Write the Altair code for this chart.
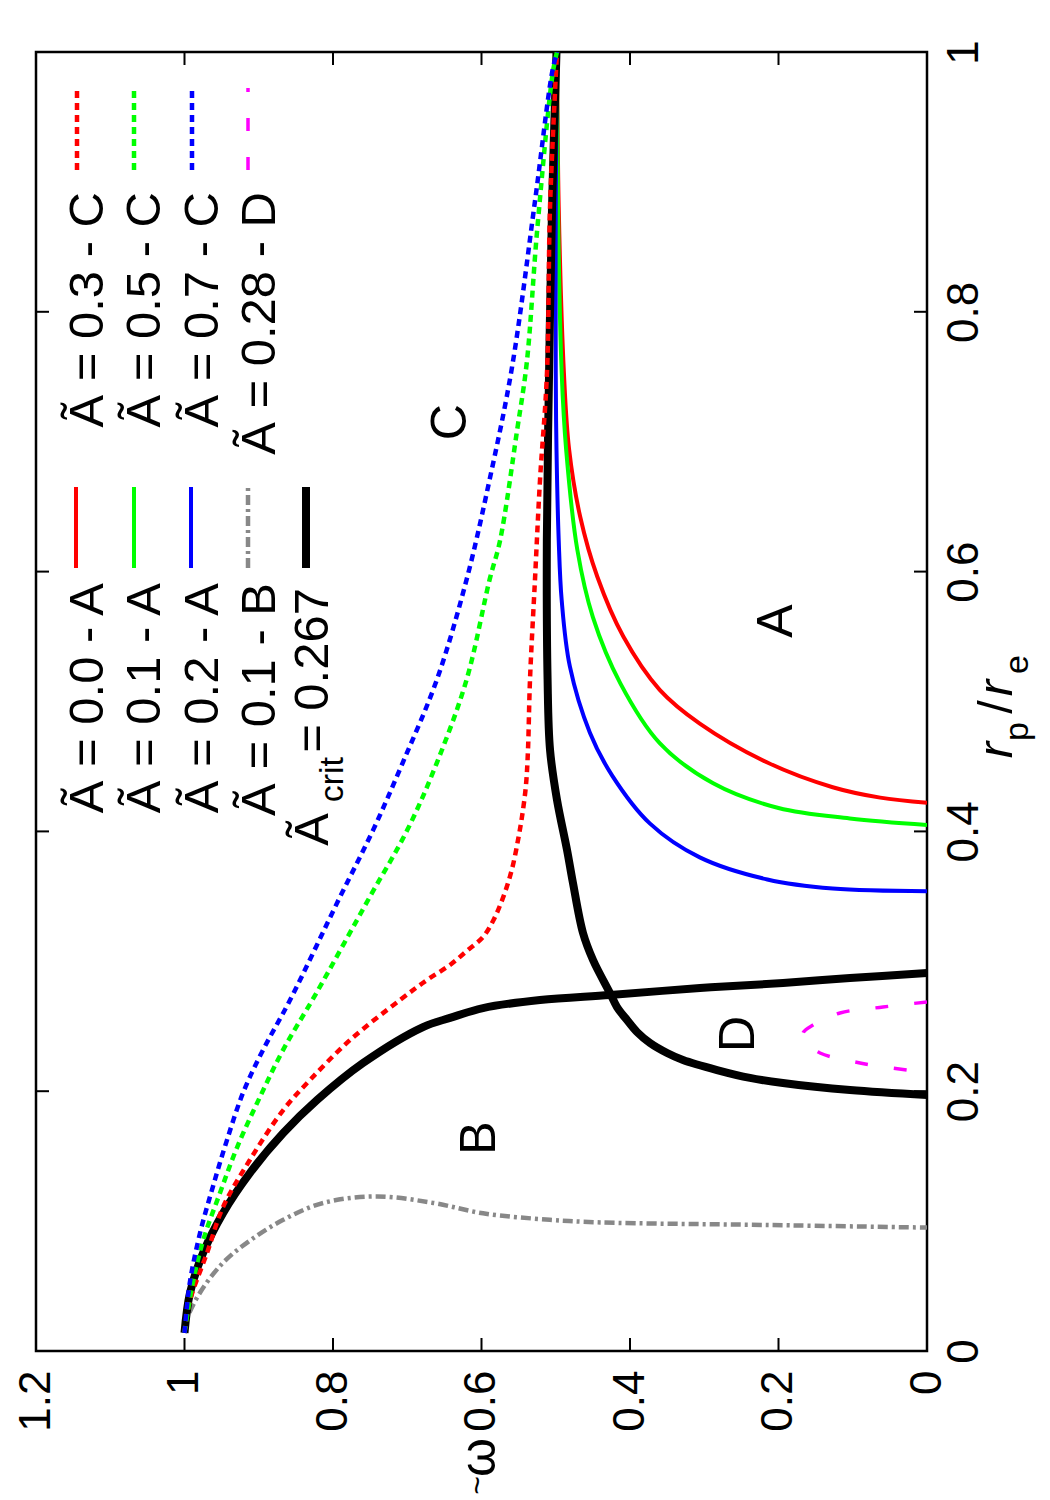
import altair as alt
import pandas as pd

FONT = "Liberation Sans"
W, H = 891, 1299
PAD = {"left": 36, "top": 52, "right": 1050 - 36 - W, "bottom": 1500 - 52 - H}

# ---------------- curve data: r = r_p/r_e, w = omega-tilde ----------------
crit_a_r = [1.0, 0.881, 0.753, 0.624, 0.517, 0.4627, 0.4242, 0.3857, 0.3603, 0.3218, 0.301, 0.2756,
            0.2648, 0.2548, 0.2456, 0.2371, 0.2294, 0.224, 0.2163, 0.2102, 0.2063, 0.2009, 0.1971]
crit_a_w = [0.499, 0.505, 0.509, 0.512, 0.511, 0.5077, 0.4983, 0.4848, 0.4768, 0.4633, 0.4498, 0.427,
            0.4175, 0.404, 0.3906, 0.373, 0.350, 0.3286, 0.2828, 0.2384, 0.194, 0.1037, 0.0]

crit_b_r = [0.0139, 0.0447, 0.0754, 0.1063, 0.137, 0.1678, 0.1932, 0.2217, 0.2494, 0.2564, 0.264,
            0.2702, 0.2741, 0.2794, 0.2833, 0.2871, 0.291]
crit_b_w = [1.0, 0.9926, 0.975, 0.948, 0.912, 0.867, 0.8215, 0.7596, 0.6788, 0.6424, 0.598,
            0.5212, 0.4269, 0.3057, 0.1939, 0.1037, 0.0]

red_c_r = [0.0139, 0.039, 0.0754, 0.1109, 0.147, 0.1855, 0.2086, 0.2394, 0.2702, 0.2856, 0.2972,
           0.3087, 0.3187, 0.331, 0.3449, 0.3603, 0.3741, 0.3934, 0.4111, 0.4357, 0.4627, 0.5166,
           0.5935, 0.6705, 0.7529, 0.8807, 1.0]
red_c_w = [1.0, 0.9926, 0.9697, 0.948, 0.912, 0.867, 0.831, 0.777, 0.7098, 0.6734, 0.6424,
           0.6182, 0.598, 0.5845, 0.5737, 0.5643, 0.5576, 0.5508, 0.5455, 0.5401, 0.5374, 0.5347,
           0.528, 0.5212, 0.5118, 0.5077, 0.4983]

green_c_r = [0.0139, 0.049, 0.085, 0.122, 0.157, 0.196, 0.232, 0.274, 0.350, 0.401, 0.453, 0.517,
             0.594, 0.624, 0.709, 0.761, 0.863, 0.984, 1.0]
green_c_w = [1.0, 0.990, 0.975, 0.952, 0.929, 0.898, 0.867, 0.824, 0.750, 0.700, 0.660, 0.620,
             0.589, 0.575, 0.552, 0.539, 0.525, 0.504, 0.4983]

blue_c_r = [0.0139, 0.052, 0.091, 0.126, 0.162, 0.199, 0.232, 0.270, 0.349, 0.401, 0.453, 0.517,
            0.594, 0.671, 0.757, 0.885, 0.984, 1.0]
blue_c_w = [1.0, 0.993, 0.979, 0.962, 0.943, 0.921, 0.894, 0.858, 0.791, 0.746, 0.706, 0.660,
            0.620, 0.589, 0.559, 0.528, 0.505, 0.4983]

red_a_r = [1.0, 0.881, 0.753, 0.694, 0.642, 0.596, 0.550, 0.509, 0.483, 0.453, 0.434, 0.426, 0.422]
red_a_w = [0.4983, 0.496, 0.489, 0.482, 0.467, 0.444, 0.409, 0.360, 0.306, 0.215, 0.127, 0.063, 0.0]

green_a_r = [1.0, 0.881, 0.753, 0.694, 0.617, 0.565, 0.514, 0.468, 0.437, 0.418, 0.410, 0.405]
green_a_w = [0.4983, 0.497, 0.492, 0.486, 0.471, 0.450, 0.413, 0.360, 0.288, 0.200, 0.104, 0.0]

blue_a_r = [1.0, 0.881, 0.753, 0.694, 0.624, 0.578, 0.527, 0.476, 0.443, 0.406, 0.380, 0.363, 0.356, 0.354]
blue_a_w = [0.4983, 0.500, 0.500, 0.499, 0.496, 0.492, 0.481, 0.454, 0.424, 0.373, 0.306, 0.215, 0.127, 0.0]

gray_b_r = [0.0139, 0.024, 0.045, 0.068, 0.085, 0.101, 0.114, 0.119, 0.114, 0.106, 0.101, 0.099, 0.097, 0.095]
gray_b_w = [1.0, 0.997, 0.979, 0.948, 0.912, 0.867, 0.813, 0.741, 0.665, 0.598, 0.508, 0.440, 0.215, 0.0]

magenta_d_r = [0.2687, 0.2648, 0.2602, 0.251, 0.2448, 0.2379, 0.2294, 0.2217, 0.2163, 0.2148]
magenta_d_w = [0.0, 0.0593, 0.1172, 0.1535, 0.167, 0.1643, 0.1441, 0.0902, 0.0269, 0.0]

# axis ticks
w_ticks = [0, 0.2, 0.4, 0.6, 0.8, 1, 1.2]
r_ticks = [0, 0.2, 0.4, 0.6, 0.8, 1]

# region labels (letter, omega, r)
region_letters = ["A", "B", "C", "D"]
region_w = [0.202, 0.602, 0.641, 0.253]
region_r = [0.562, 0.164, 0.715, 0.244]

xs = alt.Scale(domain=[0, 1.2], reverse=True, nice=False, zero=False)
ys = alt.Scale(domain=[0, 1], nice=False, zero=False)

x_axis = alt.Axis(orient="bottom", values=w_ticks, format="~g", labelAngle=270,
                  labelAlign="right", labelBaseline="middle", labelPadding=19,
                  ticks=False, tickSize=0, domain=False, grid=False, labelFlush=False,
                  labelOverlap=False, labelFont=FONT, labelFontSize=44,
                  labelColor="black", title=None)
y_axis = alt.Axis(orient="right", values=r_ticks, format="~g", labelAngle=270,
                  labelAlign="center", labelBaseline="top", labelPadding=15,
                  ticks=False, tickSize=0, domain=False, grid=False, labelFlush=False,
                  labelOverlap=False, labelFont=FONT, labelFontSize=44,
                  labelColor="black", title=None)


def X(field):
    return alt.X(field, scale=xs, axis=x_axis)


def Y(field):
    return alt.Y(field, scale=ys, axis=y_axis)


DASH_C = [7, 5]
DASH_D = [13, 26]
DASH_B = [10, 4, 3, 4]

# (r, w, colour, width, dash)
curves = [
    (gray_b_r, gray_b_w, "#888888", 4.5, DASH_B),
    (magenta_d_r, magenta_d_w, "#ff00ff", 3.5, DASH_D),
    (red_a_r, red_a_w, "#ff0000", 4, None),
    (green_a_r, green_a_w, "#00ff00", 4, None),
    (blue_a_r, blue_a_w, "#0000ff", 4, None),
    (crit_a_r, crit_a_w, "black", 8, None),
    (crit_b_r, crit_b_w, "black", 8, None),
    (red_c_r, red_c_w, "#ff0000", 4.5, DASH_C),
    (green_c_r, green_c_w, "#00ff00", 4.5, DASH_C),
    (blue_c_r, blue_c_w, "#0000ff", 4.5, DASH_C),
]

layers = []
for rr, ww, col, sw, dash in curves:
    df = pd.DataFrame({"r": rr, "w": ww, "i": list(range(len(rr)))})
    mk = dict(color=col, strokeWidth=sw, interpolate="catmull-rom", clip=True)
    if dash:
        mk["strokeDash"] = dash
    layers.append(
        alt.Chart(df).mark_line(**mk).encode(x=X("w:Q"), y=Y("r:Q"), order=alt.Order("i:Q"))
    )

# inward ticks on all four sides
wt = pd.DataFrame({"w": w_ticks})
rt = pd.DataFrame({"r": r_ticks})
TL = 13
for y0, y1 in [(0, TL), (H - TL, H)]:
    layers.append(alt.Chart(wt).mark_rule(color="black", strokeWidth=2).encode(
        x=X("w:Q"), y=alt.value(y0), y2=alt.value(y1)))
for x0, x1 in [(0, TL), (W - TL, W)]:
    layers.append(alt.Chart(rt).mark_rule(color="black", strokeWidth=2).encode(
        y=Y("r:Q"), x=alt.value(x0), x2=alt.value(x1)))

# region letters
reg = pd.DataFrame({"L": region_letters, "w": region_w, "r": region_r})
layers.append(alt.Chart(reg).mark_text(font=FONT, fontSize=50, angle=270,
                                       align="center", baseline="middle", color="black").encode(
    x=X("w:Q"), y=Y("r:Q"), text="L:N"))


def label(txt, px, py, size=49, align="right", baseline="alphabetic", style="normal"):
    d = pd.DataFrame({"s": [txt]})
    return alt.Chart(d).mark_text(font=FONT, fontSize=size, angle=270, align=align,
                                  baseline=baseline, fontStyle=style, color="black",
                                  x=px - 36, y=py - 52).encode(text="s:N")


def sample(px, py0, py1, col, sw, dash=None):
    d = pd.DataFrame({"k": [0]})
    mk = dict(color=col, strokeWidth=sw)
    if dash:
        mk["strokeDash"] = dash
    return alt.Chart(d).mark_rule(**mk).encode(
        x=alt.value(px - 36), y=alt.value(py1 - 52), y2=alt.value(py0 - 52))


# key: lower block
key_low = [("Ã = 0.0 - A", 103, 76, "#ff0000", 4, None),
           ("Ã = 0.1 - A", 160, 134, "#00ff00", 4, None),
           ("Ã = 0.2 - A", 218, 191, "#0000ff", 4, None),
           ("Ã = 0.1 - B", 275, 248, "#888888", 4.5, DASH_B)]
for txt, bx, sx, col, sw, dash in key_low:
    layers.append(label(txt, bx, 583))
    layers.append(sample(sx, 487, 568, col, sw, dash))
# critical value entry
layers.append(label("Ã", 328, 813))
layers.append(label("crit", 343, 757, size=34))
layers.append(label("= 0.267", 328, 588))
layers.append(sample(306, 487, 568, "black", 8))

key_up = [("Ã = 0.3 - C", 103, 77, "#ff0000", 4.5, DASH_C),
          ("Ã = 0.5 - C", 160, 134, "#00ff00", 4.5, DASH_C),
          ("Ã = 0.7 - C", 218, 192, "#0000ff", 4.5, DASH_C),
          ("Ã = 0.28 - D", 275, 248, "#ff00ff", 3.5, DASH_D)]
for txt, bx, sx, col, sw, dash in key_up:
    layers.append(label(txt, bx, 192))
    layers.append(sample(sx, 88, 170, col, sw, dash))

# axis titles
layers.append(label("r", 1012, 742, style="italic"))
layers.append(label("p", 1028, 722, size=34))
layers.append(label("/", 1012, 700))
layers.append(label("r", 1012, 680, style="italic"))
layers.append(label("e", 1028, 655, size=34))
layers.append(label("ω", 480, 1438, size=50, baseline="middle"))
layers.append(label("~", 478, 1476, size=32, baseline="middle"))

chart = alt.layer(*layers).properties(
    width=W, height=H, background="white", padding=PAD,
    autosize=alt.AutoSizeParams(type="none"),
).configure_view(stroke="black", strokeWidth=2.5)

chart.save("out.html", embed_options={"renderer": "svg", "actions": False})
